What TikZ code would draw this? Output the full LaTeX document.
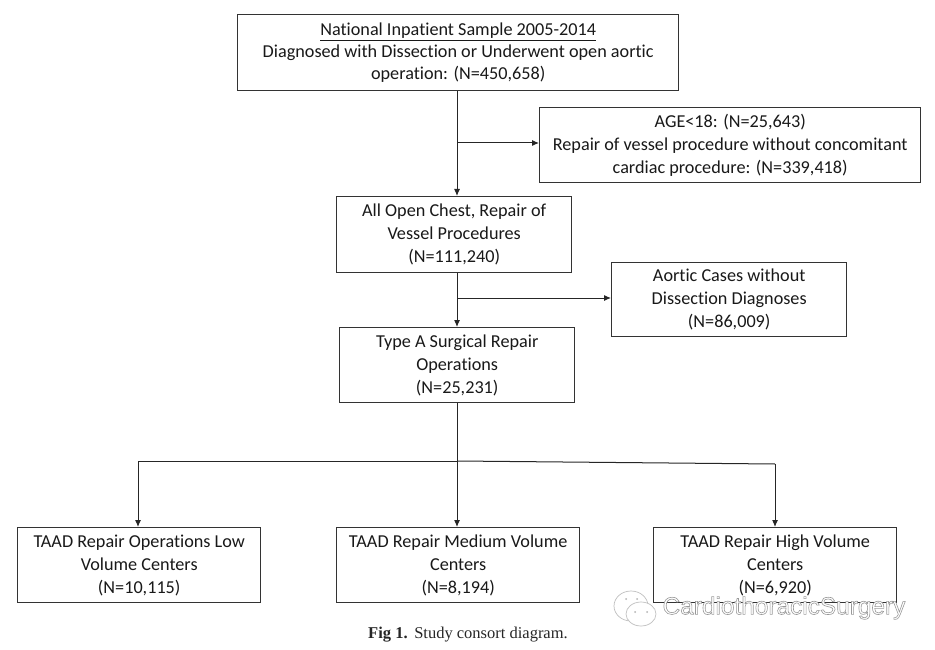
\documentclass[tikz,border=0pt]{standalone}
\usepackage{fontspec}
\setmainfont{Carlito}[Ligatures=NoCommon]
\newfontfamily\capfont{Liberation Serif}
\newfontfamily\wmfont{Liberation Sans}
\usetikzlibrary{arrows.meta}
\begin{document}
\begin{tikzpicture}[x=1pt,y=-1pt,
  box/.style={draw=black!80,line width=1.4pt,fill=white,align=center,font=\fontsize{18.2}{23}\selectfont,text=black!90,inner sep=0pt,anchor=north west},
  link/.style={draw=black!85,line width=1pt},
  arrow/.style={link,-{Latex[length=7pt,width=6pt]}},
  wechat/.style={draw=black!25,line width=0.7pt,fill=white}]
\useasboundingbox (0,0) rectangle (935,650);
\node[box,font=\fontsize{18.2}{22}\selectfont,minimum width=441pt,minimum height=76pt] (top) at (237,14) {\underline{National Inpatient Sample 2005-2014}\\Diagnosed with Dissection or Underwent open aortic\\operation: (N=450,658)\hspace{3pt}};
\node[box,minimum width=381pt,minimum height=75pt] (age) at (539,107) {AGE\textless 18: (N=25,643)\\Repair of vessel procedure without concomitant\\cardiac procedure: (N=339,418)};
\node[box,minimum width=235pt,minimum height=76pt] (open) at (336,196) {All Open Chest, Repair of\\Vessel Procedures\\(N=111,240)};
\node[box,minimum width=235pt,minimum height=74pt] (aortic) at (611,262) {Aortic Cases without\\Dissection Diagnoses\\(N=86,009)};
\node[box,minimum width=235pt,minimum height=75pt] (typea) at (339,327) {Type A Surgical Repair\\Operations\\(N=25,231)};
\node[box,minimum width=243pt,minimum height=75pt] (low) at (17,527) {TAAD Repair Operations Low\\Volume Centers\\(N=10,115)};
\node[box,minimum width=243pt,minimum height=75pt] (med) at (336,527) {TAAD Repair Medium Volume\\Centers\\(N=8,194)};
\node[box,minimum width=243pt,minimum height=75pt] (high) at (653,527) {TAAD Repair High Volume\\Centers\\(N=6,920)};
\coordinate (j1) at (457,143);
\coordinate (j2) at (457,298);
\coordinate (j3) at (457,461);
\coordinate (jl) at (138,461);
\coordinate (jh) at (775,464);
\draw[arrow] (j1 |- top.south) -- (j1 |- open.north);
\draw[arrow] (j1) -- (j1 -| age.west);
\draw[arrow] (j2 |- open.south) -- (j2 |- typea.north);
\draw[arrow] (j2) -- (j2 -| aortic.west);
\draw[link] (j3 |- typea.south) -- (j3);
\draw[arrow] (j3) -- (j3 |- med.north);
\draw[link] (jl) -- (j3);
\draw[link] (j3) -- (jh);
\draw[arrow] (jl) -- (jl |- low.north);
\draw[arrow] (jh) -- (jh |- high.north);
\node[font=\capfont\fontsize{16.5}{18}\selectfont,text=black!85] (cap) at (468,635) {\textbf{Fig 1.}\hspace{0.4em}Study consort diagram.};
% WeChat mark of the watermark
\draw[wechat] (631,606) ellipse (17pt and 15pt);
\draw[wechat] (641,614) ellipse (15pt and 12pt);
\fill[black!30] (626,599) circle (1pt) (637,599) circle (1pt) (635,612) circle (1pt) (647,612) circle (1pt);
\node[font=\wmfont\fontsize{24.4}{26}\selectfont,text=white,inner sep=0pt] (wm) at (784,608) {\special{pdf:code 2 Tr 0.6 w 0.6 G}CardiothoracicSurgery\special{pdf:code 0 Tr 0 G}};
\end{tikzpicture}
\end{document}
